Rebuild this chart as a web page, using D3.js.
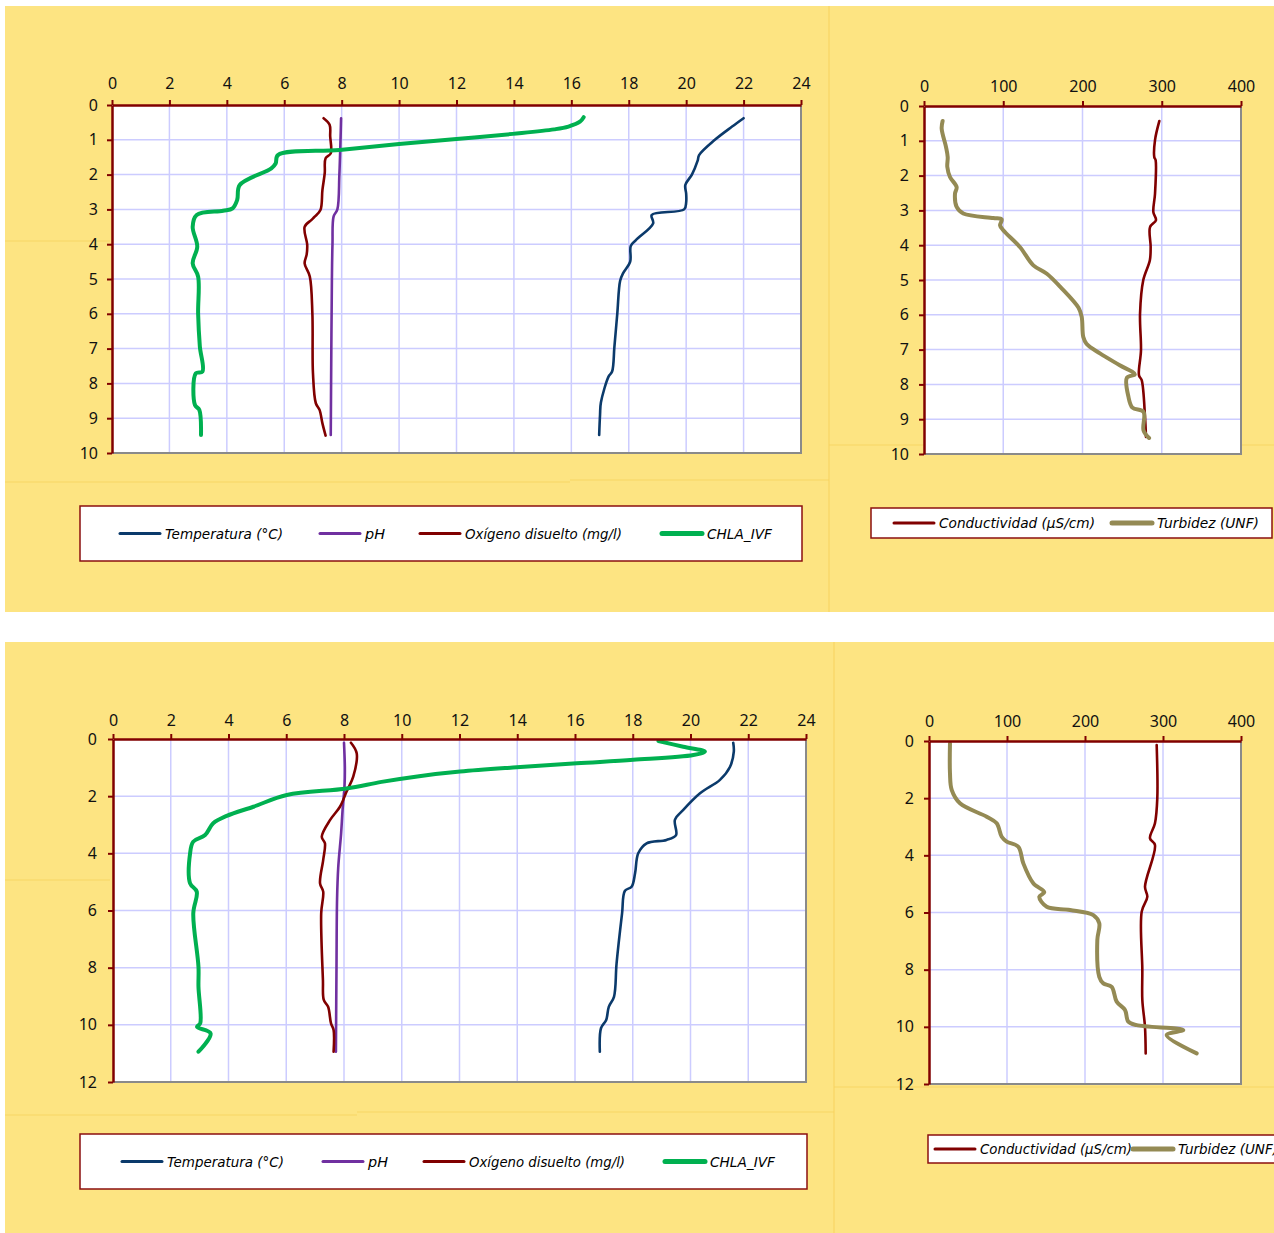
<!DOCTYPE html>
<html lang="es">
<head>
<meta charset="utf-8">
<title>Perfiles verticales</title>
<script src="https://cdn.jsdelivr.net/npm/d3@7"></script>
<style>
  body{ margin:0; background:#fff; }
  svg{ display:block; }
  .tick text{ font-family:"Noto Sans","DejaVu Sans",sans-serif; font-size:16px; fill:#111; }
  .legend text{ font-family:"DejaVu Sans",sans-serif; font-style:italic; font-size:14px; fill:#000; }
</style>
</head>
<body>
<svg id="chart" width="1274" height="1233"></svg>
<script>
// tick labels
var paramTicks = [0,2,4,6,8,10,12,14,16,18,20,22,24];
var condTicks = [0,100,200,300,400];
var depthTicksA = [0,1,2,3,4,5,6,7,8,9,10];
var depthTicksB = [0,2,4,6,8,10,12];

// profile A  -> [depth (m), value]
var tempA = [[0.38,22.0],[0.62,21.6],[1.0,21.0],[1.44,20.45],[1.6,20.4],[2.0,20.2],[2.3,19.97],[2.55,20.0],[2.8,20.0],[3.0,19.93],[3.16,18.8],[3.4,18.85],[3.88,18.25],[4.05,18.07],[4.5,18.05],[4.84,17.8],[5.05,17.7],[6.0,17.6],[6.95,17.5],[7.66,17.42],[7.8,17.3],[8.55,17.03],[8.9,17.0],[9.48,16.97]];
var phA = [[0.38,7.98],[1.0,7.96],[2.0,7.92],[3.0,7.85],[3.2,7.72],[4.0,7.68],[5.0,7.66],[7.0,7.64],[9.48,7.62]];
var oxyA = [[0.38,7.37],[0.57,7.58],[0.9,7.6],[1.39,7.62],[1.53,7.44],[1.96,7.41],[2.44,7.33],[3.02,7.26],[3.21,7.06],[3.3,6.95],[3.5,6.71],[4.02,6.8],[4.3,6.78],[4.55,6.71],[4.93,6.89],[6.0,6.98],[7.7,7.0],[8.57,7.1],[8.76,7.23],[9.15,7.33],[9.5,7.44]];
var chlaA = [[0.35,16.43],[0.48,16.3],[0.62,15.9],[0.7,15.4],[0.83,13.96],[0.98,12.0],[1.12,10.0],[1.29,7.93],[1.44,5.78],[1.68,5.7],[1.82,5.55],[2.3,4.45],[2.73,4.36],[2.97,4.2],[3.04,3.87],[3.16,2.95],[3.5,2.81],[4.07,2.97],[4.55,2.81],[4.93,3.0],[6.0,3.0],[6.94,3.06],[7.66,3.15],[7.71,2.92],[8.62,2.89],[8.76,3.04],[9.48,3.1]];
var condA = [[0.43,297],[0.98,291.5],[1.47,290.6],[1.56,292.3],[2.52,291.5],[3.05,289.4],[3.28,292.7],[3.48,285.2],[4.05,286],[4.43,285],[5.0,276.7],[5.97,272.6],[7.02,273.8],[7.74,271.3],[7.88,274.7],[8.94,278.9],[9.51,280.1]];
var turbA = [[0.43,23.5],[0.65,22.3],[1.18,27.8],[1.47,29.9],[1.75,29.4],[2.04,32.8],[2.33,41.2],[2.52,39.1],[2.9,41.2],[3.09,49.6],[3.22,87.5],[3.26,98],[3.43,96],[3.57,100],[4.05,121],[4.58,138],[4.82,155],[5.2,172],[5.8,195],[6.06,199],[6.64,201],[6.83,205],[7.11,222],[7.45,247],[7.71,266],[7.81,256],[8.36,258],[8.67,263],[8.79,277],[9.32,277],[9.54,284]];

// profile B
var tempB = [[0.13,21.48],[0.44,21.5],[0.97,21.37],[1.43,21.02],[1.9,20.33],[2.48,19.75],[2.83,19.46],[3.36,19.5],[3.53,19.17],[3.65,18.48],[4.0,18.19],[4.7,18.08],[5.17,17.96],[5.31,17.73],[6.1,17.63],[7.85,17.44],[9.02,17.35],[9.37,17.17],[9.83,17.08],[10.12,16.9],[10.94,16.86]];
var phB = [[0.13,8.0],[1.0,8.03],[1.6,8.02],[2.5,7.95],[3.3,7.9],[4.5,7.8],[5.6,7.76],[8.0,7.74],[10.94,7.72]];
var oxyB = [[0.13,8.24],[0.5,8.44],[1.32,8.32],[1.84,8.09],[2.37,7.86],[2.83,7.52],[3.42,7.23],[3.65,7.34],[4.23,7.28],[5.05,7.17],[5.34,7.28],[6.1,7.21],[8.43,7.27],[9.13,7.3],[9.37,7.45],[9.95,7.55],[10.18,7.64],[10.94,7.64]];
var chlaB = [[0.07,18.89],[0.27,19.75],[0.44,20.5],[0.56,20.1],[0.73,18.02],[0.85,16.06],[0.99,13.98],[1.14,12.02],[1.3,10.6],[1.5,9.3],[1.73,8.09],[1.96,6.02],[2.37,4.86],[2.69,3.94],[2.95,3.47],[3.36,3.19],[3.59,2.78],[4.0,2.67],[5.05,2.67],[5.34,2.9],[6.1,2.78],[7.97,2.96],[8.67,2.96],[9.95,3.02],[10.07,2.91],[10.3,3.38],[10.94,2.96]];
var condB = [[0.14,291.9],[2.0,292.7],[2.88,289.7],[3.4,283.3],[3.64,289.7],[5.1,276.9],[5.45,279.9],[5.97,272.7],[8.0,273.5],[9.06,273.5],[10.0,276.9],[10.93,277.8]];
var turbB = [[0.08,26.9],[1.13,26.9],[1.71,29.1],[2.18,39.7],[2.65,74],[2.88,86.8],[3.35,93.2],[3.52,99.6],[3.7,114.5],[4.28,120.9],[4.98,133.7],[5.29,147.8],[5.45,141.4],[5.8,150.9],[5.91,180.8],[6.09,210.7],[6.38,218.3],[6.96,215.8],[8.25,218.3],[8.48,223.5],[8.6,234.2],[9.12,240.6],[9.41,251.3],[9.82,255.5],[9.94,266.2],[10.11,326],[10.29,304.7],[10.93,343.2]];

var seriesNames = ["Temperatura (°C)","pH","Oxígeno disuelto (mg/l)","CHLA_IVF"];
var seriesNames2 = ["Conductividad (µS/cm)","Turbidez (UNF)"];

var svg = d3.select("#chart");
var bg = "#fde482", seam = "#f8d35e";

// panels
svg.append("rect").attr("x",5).attr("y",6).attr("width",1269).attr("height",606).attr("fill",bg);
svg.append("rect").attr("x",5).attr("y",642).attr("width",1269).attr("height",591).attr("fill",bg);
[[829,6,829,612],[834,642,834,1233],[5,482,570,482],[570,480,829,480],[829,445,1274,445],
 [5,1115,357,1115],[357,1112,834,1112],[834,1087,1274,1087],[5,241,110,241],[5,880,110,880]].forEach(function(s){
  svg.append("line").attr("x1",s[0]).attr("y1",s[1]).attr("x2",s[2]).attr("y2",s[3])
    .attr("stroke",seam).attr("stroke-width",1.2).attr("opacity",0.8);
});

function profile(o){
  var g = svg.append("g");
  var x = d3.scaleLinear().domain(o.xDomain).range([o.left,o.right]);
  var y = d3.scaleLinear().domain(o.yDomain).range([o.top,o.bottom]);

  g.append("rect").attr("x",o.left).attr("y",o.top)
    .attr("width",o.right-o.left).attr("height",o.bottom-o.top).attr("fill","#fff");

  // grid
  g.selectAll(".gx").data(o.xTicks.slice(1,-1)).enter().append("line")
    .attr("x1",function(d){return x(d);}).attr("x2",function(d){return x(d);})
    .attr("y1",o.top).attr("y2",o.bottom).attr("stroke","#ccccff").attr("stroke-width",1.5);
  g.selectAll(".gy").data(o.yTicks.slice(1,-1)).enter().append("line")
    .attr("y1",function(d){return y(d);}).attr("y2",function(d){return y(d);})
    .attr("x1",o.left).attr("x2",o.right).attr("stroke","#ccccff").attr("stroke-width",1.5);

  // right / bottom frame
  g.append("path").attr("d","M"+o.right+","+o.top+"V"+o.bottom+"H"+o.left)
    .attr("fill","none").attr("stroke","#8a8a8a").attr("stroke-width",2);

  var line = d3.line()
    .x(function(d){return x(d[1]);})
    .y(function(d){return y(d[0]);})
    .curve(d3.curveCatmullRom.alpha(0.5));

  o.series.forEach(function(s){
    g.append("path").datum(s.data).attr("d",line)
      .attr("fill","none").attr("stroke",s.color).attr("stroke-width",s.width)
      .attr("stroke-linejoin","round").attr("stroke-linecap","round");
  });

  var ax = g.append("g").attr("transform","translate(0,"+o.top+")")
    .call(d3.axisTop(x).tickValues(o.xTicks).tickSize(5).tickSizeOuter(0).tickPadding(o.padX));
  var ay = g.append("g").attr("transform","translate("+o.left+",0)")
    .call(d3.axisLeft(y).tickValues(o.yTicks).tickSize(5).tickSizeOuter(0).tickPadding(o.padY));
  [ax,ay].forEach(function(a){
    a.select(".domain").attr("stroke","#800000").attr("stroke-width",2.5);
    a.selectAll(".tick line").attr("stroke","#800000").attr("stroke-width",2);
  });
}

function legend(o){
  var g = svg.append("g").attr("class","legend");
  g.append("rect").attr("x",o.x).attr("y",o.y).attr("width",o.w).attr("height",o.h)
    .attr("fill","#fff").attr("stroke","#8b0f0f").attr("stroke-width",1.5);
  var cy = o.y + o.h/2;
  o.items.forEach(function(it){
    g.append("line").attr("x1",it.x).attr("x2",it.x+40).attr("y1",cy).attr("y2",cy)
      .attr("stroke",it.color).attr("stroke-width",it.width).attr("stroke-linecap","round");
    g.append("text").attr("x",it.x+45).attr("y",cy+5).text(it.name)
      .attr("textLength",it.len).attr("lengthAdjust","spacingAndGlyphs");
  });
}

var cTemp = "#0b3a6b", cPh = "#7030a0", cOxy = "#800000", cChla = "#00b050", cCond = "#800000", cTurb = "#948a54";

profile({left:112,right:801,top:105,bottom:453,xDomain:[0,24],yDomain:[0,10],
  xTicks:paramTicks,yTicks:depthTicksA,padX:11,padY:9,
  series:[{data:tempA,color:cTemp,width:2.6},{data:phA,color:cPh,width:2.6},
          {data:oxyA,color:cOxy,width:2.6},{data:chlaA,color:cChla,width:4}]});

profile({left:924,right:1241,top:106,bottom:454,xDomain:[0,400],yDomain:[0,10],
  xTicks:condTicks,yTicks:depthTicksA,padX:9,padY:10,
  series:[{data:condA,color:cCond,width:2.6},{data:turbA,color:cTurb,width:4}]});

profile({left:113,right:806,top:739,bottom:1082,xDomain:[0,24],yDomain:[0,12],
  xTicks:paramTicks,yTicks:depthTicksB,padX:8,padY:11,
  series:[{data:tempB,color:cTemp,width:2.6},{data:phB,color:cPh,width:2.6},
          {data:oxyB,color:cOxy,width:2.6},{data:chlaB,color:cChla,width:4}]});

profile({left:929,right:1241,top:741,bottom:1084,xDomain:[0,400],yDomain:[0,12],
  xTicks:condTicks,yTicks:depthTicksB,padX:9,padY:10,
  series:[{data:condB,color:cCond,width:2.6},{data:turbB,color:cTurb,width:4}]});

legend({x:80,y:506,w:722,h:55,items:[
  {x:120,name:seriesNames[0],color:cTemp,width:3,len:118},
  {x:320,name:seriesNames[1],color:cPh,width:3,len:20},
  {x:420,name:seriesNames[2],color:cOxy,width:3,len:157},
  {x:662,name:seriesNames[3],color:cChla,width:5,len:65}]});
legend({x:871,y:508,w:401,h:30,items:[
  {x:894,name:seriesNames2[0],color:cCond,width:3,len:156},
  {x:1112,name:seriesNames2[1],color:cTurb,width:5,len:102}]});
legend({x:80,y:1134,w:727,h:55,items:[
  {x:122,name:seriesNames[0],color:cTemp,width:3,len:117},
  {x:323,name:seriesNames[1],color:cPh,width:3,len:20},
  {x:424,name:seriesNames[2],color:cOxy,width:3,len:156},
  {x:665,name:seriesNames[3],color:cChla,width:5,len:65}]});
legend({x:928,y:1135,w:360,h:28,items:[
  {x:935,name:seriesNames2[0],color:cCond,width:3,len:152},
  {x:1133,name:seriesNames2[1],color:cTurb,width:5,len:100}]});
</script>
</body>
</html>
